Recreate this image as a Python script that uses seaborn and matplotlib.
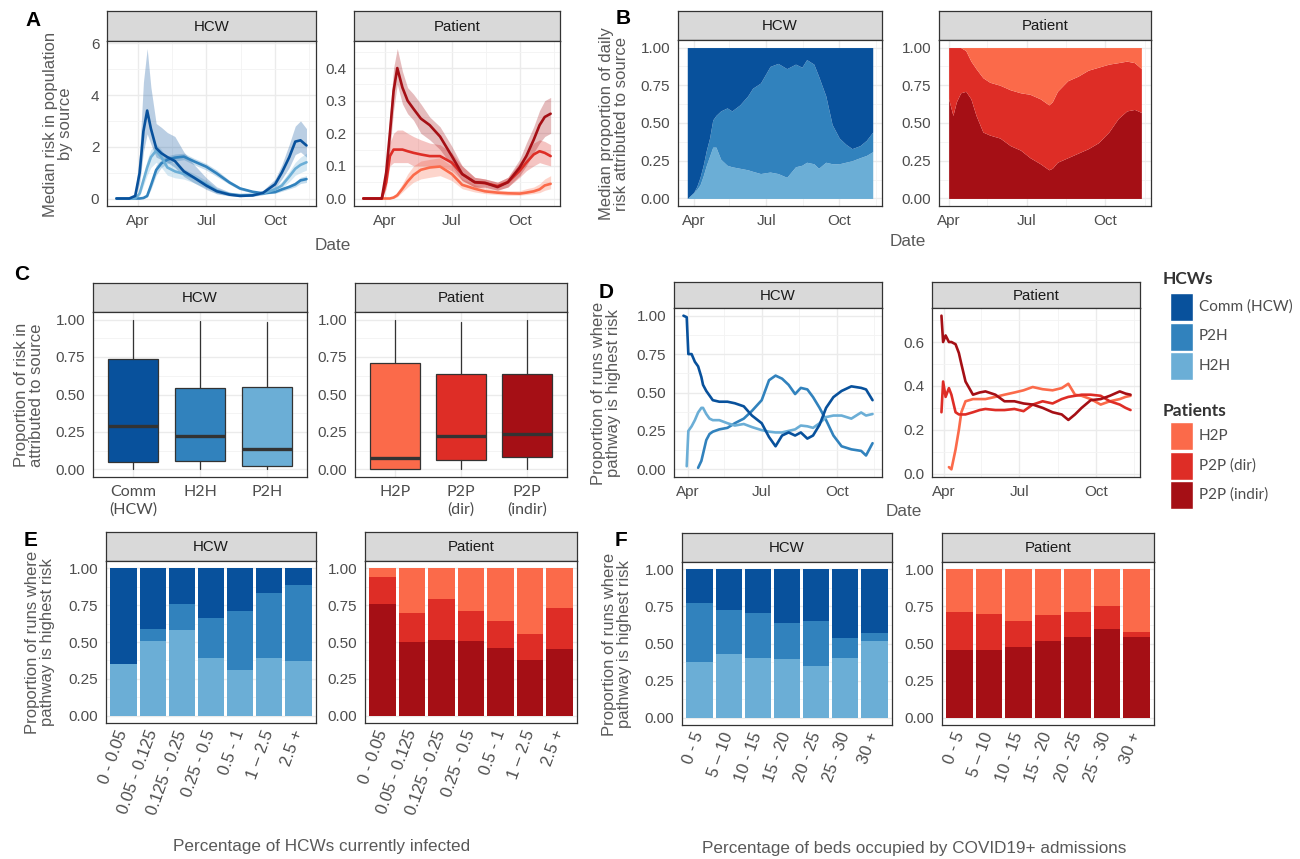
import numpy as np
import pandas as pd
import matplotlib
matplotlib.use("Agg")
import matplotlib.pyplot as plt
import matplotlib.dates as mdates
from matplotlib.patches import Rectangle
import seaborn as sns

nan = np.nan

# colours (ColorBrewer blues / reds)
DARK_B, MID_B, LIGHT_B = "#08519C", "#3182BD", "#6BAED6"
LIGHT_R, MID_R, DARK_R = "#FB6A4A", "#DE2D26", "#A50F15"

# ---------------- A: median risk by source ----------------
a_dates = ["2020-03-03", "2020-03-20", "2020-03-28", "2020-04-03", "2020-04-08", "2020-04-13",
           "2020-04-18", "2020-04-25", "2020-05-02", "2020-05-10", "2020-05-20", "2020-06-01",
           "2020-06-15", "2020-07-01", "2020-07-15", "2020-08-01", "2020-08-15", "2020-09-01",
           "2020-09-15", "2020-10-01", "2020-10-10", "2020-10-20", "2020-10-28", "2020-11-04",
           "2020-11-12"]
a_comm = [0, 0, 0.1, 1.0, 2.6, 3.4, 2.7, 1.95, 1.75, 1.6, 1.45, 1.05, 0.8, 0.5, 0.28, 0.15, 0.1,
          0.12, 0.22, 0.55, 1.0, 1.6, 2.2, 2.25, 2.05]
a_comm_lo = [0, 0, 0.05, 0.6, 1.8, 2.5, 2.1, 1.6, 1.5, 1.4, 1.2, 0.85, 0.6, 0.35, 0.18, 0.1, 0.07,
             0.08, 0.15, 0.4, 0.75, 1.2, 1.7, 1.8, 1.6]
a_comm_hi = [0, 0, 0.2, 1.8, 4.5, 5.8, 4.3, 2.9, 2.75, 2.55, 2.4, 1.8, 1.3, 0.8, 0.45, 0.25, 0.18,
             0.18, 0.32, 0.75, 1.3, 2.1, 2.8, 3.0, 2.7]
a_h2h = [0, 0, 0, 0.2, 0.7, 1.2, 1.6, 1.85, 1.6, 1.2, 1.05, 0.95, 0.8, 0.55, 0.3, 0.17, 0.13, 0.14,
         0.2, 0.35, 0.5, 0.85, 1.15, 1.3, 1.4]
a_h2h_lo = [0, 0, 0, 0.1, 0.5, 0.9, 1.2, 1.4, 1.2, 0.9, 0.8, 0.75, 0.6, 0.4, 0.2, 0.12, 0.1, 0.1,
            0.15, 0.25, 0.4, 0.65, 0.9, 1.0, 1.1]
a_h2h_hi = [0, 0, 0, 0.3, 0.9, 1.5, 1.9, 2.1, 1.9, 1.5, 1.35, 1.15, 0.95, 0.7, 0.4, 0.22, 0.18, 0.18,
            0.25, 0.45, 0.65, 1.05, 1.4, 1.6, 1.75]
a_p2h = [0, 0, 0, 0, 0.02, 0.1, 0.5, 1.1, 1.36, 1.5, 1.58, 1.62, 1.43, 1.23, 0.97, 0.62, 0.39, 0.26,
         0.2, 0.25, 0.35, 0.45, 0.55, 0.7, 0.75]
a_p2h_lo = [0, 0, 0, 0, 0, 0.05, 0.35, 0.9, 1.2, 1.35, 1.45, 1.5, 1.3, 1.1, 0.85, 0.55, 0.33, 0.22,
            0.17, 0.2, 0.28, 0.37, 0.45, 0.58, 0.62]
a_p2h_hi = [0, 0, 0, 0, 0.05, 0.15, 0.65, 1.3, 1.5, 1.65, 1.72, 1.75, 1.55, 1.35, 1.1, 0.7, 0.45, 0.3,
            0.24, 0.3, 0.42, 0.53, 0.65, 0.82, 0.88]

a_indir = [0, 0, 0, 0.08, 0.2, 0.33, 0.40, 0.34, 0.30, 0.275, 0.245, 0.225, 0.19, 0.13, 0.075, 0.05,
           0.048, 0.035, 0.05, 0.095, 0.13, 0.18, 0.225, 0.25, 0.26]
a_indir_lo = [0, 0, 0, 0.05, 0.15, 0.27, 0.35, 0.29, 0.26, 0.24, 0.2, 0.18, 0.15, 0.1, 0.055, 0.035,
              0.035, 0.025, 0.035, 0.07, 0.1, 0.14, 0.17, 0.19, 0.2]
a_indir_hi = [0, 0, 0, 0.1, 0.26, 0.4, 0.46, 0.39, 0.34, 0.32, 0.29, 0.25, 0.22, 0.16, 0.1, 0.065,
              0.06, 0.05, 0.065, 0.12, 0.17, 0.22, 0.27, 0.3, 0.31]
a_dir = [0, 0, 0, 0.05, 0.13, 0.15, 0.15, 0.15, 0.145, 0.14, 0.135, 0.13, 0.13, 0.11, 0.075, 0.05,
         0.047, 0.038, 0.05, 0.085, 0.11, 0.135, 0.145, 0.14, 0.13]
a_dir_lo = [0, 0, 0, 0.03, 0.1, 0.11, 0.11, 0.11, 0.11, 0.1, 0.1, 0.1, 0.1, 0.085, 0.055, 0.035,
            0.033, 0.026, 0.035, 0.065, 0.085, 0.1, 0.11, 0.105, 0.1]
a_dir_hi = [0, 0, 0, 0.07, 0.17, 0.2, 0.21, 0.21, 0.2, 0.19, 0.18, 0.17, 0.165, 0.14, 0.1, 0.065,
            0.06, 0.05, 0.065, 0.11, 0.14, 0.17, 0.18, 0.175, 0.165]
a_h2p = [0, 0, 0, 0, 0, 0.003, 0.01, 0.03, 0.052, 0.072, 0.088, 0.095, 0.098, 0.075, 0.042, 0.03,
         0.022, 0.018, 0.016, 0.015, 0.018, 0.022, 0.028, 0.04, 0.045]
a_h2p_lo = [0, 0, 0, 0, 0, 0, 0.005, 0.02, 0.035, 0.05, 0.06, 0.065, 0.07, 0.055, 0.03, 0.02, 0.015,
            0.012, 0.01, 0.01, 0.012, 0.015, 0.018, 0.025, 0.03]
a_h2p_hi = [0, 0, 0, 0, 0, 0.006, 0.02, 0.045, 0.075, 0.1, 0.115, 0.12, 0.125, 0.1, 0.06, 0.042,
            0.032, 0.026, 0.024, 0.024, 0.03, 0.035, 0.045, 0.06, 0.07]

# ---------------- B: share of daily risk ----------------
b_hcw_dates = ["2020-03-24", "2020-04-01", "2020-04-05", "2020-04-09", "2020-04-13", "2020-04-17",
               "2020-04-21", "2020-04-25", "2020-04-29", "2020-05-05", "2020-05-13", "2020-05-19",
               "2020-05-29", "2020-06-08", "2020-06-14", "2020-06-24", "2020-07-06", "2020-07-16",
               "2020-07-27", "2020-08-07", "2020-08-15", "2020-08-21", "2020-08-30", "2020-09-05",
               "2020-09-14", "2020-09-22", "2020-10-01", "2020-10-09", "2020-10-17", "2020-10-27",
               "2020-11-04", "2020-11-12"]
b_hcw_h2h = [0, 0.04, 0.06, 0.09, 0.15, 0.22, 0.28, 0.34, 0.34, 0.26, 0.22, 0.21, 0.20, 0.19, 0.18,
             0.165, 0.175, 0.165, 0.14, 0.21, 0.22, 0.24, 0.23, 0.20, 0.24, 0.23, 0.23, 0.24, 0.25,
             0.27, 0.285, 0.31]
b_hcw_p2h = [0, 0, 0.02, 0.05, 0.07, 0.10, 0.12, 0.18, 0.21, 0.32, 0.38, 0.37, 0.42, 0.49, 0.55,
             0.60, 0.70, 0.73, 0.72, 0.68, 0.65, 0.68, 0.66, 0.61, 0.44, 0.26, 0.17, 0.12, 0.08,
             0.08, 0.10, 0.13]

b_pat_dates = ["2020-04-01", "2020-04-06", "2020-04-10", "2020-04-15", "2020-04-21", "2020-04-27",
               "2020-05-03", "2020-05-11", "2020-05-19", "2020-05-31", "2020-06-12", "2020-06-24",
               "2020-07-05", "2020-07-17", "2020-07-27", "2020-07-31", "2020-08-06", "2020-08-18",
               "2020-08-30", "2020-09-11", "2020-09-23", "2020-10-05", "2020-10-16", "2020-10-26",
               "2020-11-04", "2020-11-12"]
b_pat_indir = [0.66, 0.55, 0.64, 0.70, 0.71, 0.66, 0.55, 0.44, 0.42, 0.40, 0.35, 0.32, 0.27, 0.23,
               0.19, 0.20, 0.24, 0.27, 0.30, 0.33, 0.37, 0.44, 0.53, 0.58, 0.59, 0.57]
b_pat_dir = [0.34, 0.45, 0.36, 0.30, 0.27, 0.25, 0.31, 0.36, 0.35, 0.35, 0.37, 0.38, 0.42, 0.43,
             0.43, 0.44, 0.47, 0.51, 0.51, 0.52, 0.50, 0.45, 0.37, 0.33, 0.31, 0.29]

# ---------------- C: box summaries ----------------
c_hcw_labels = ["Comm\n(HCW)", "H2H", "P2H"]
c_hcw_lo = [0, 0, 0]
c_hcw_q1 = [0.053, 0.055, 0.022]
c_hcw_med = [0.288, 0.222, 0.135]
c_hcw_q3 = [0.736, 0.543, 0.55]
c_hcw_hi = [1.0, 0.99, 0.985]

c_pat_labels = ["H2P", "P2P\n(dir)", "P2P\n(indir)"]
c_pat_lo = [0, 0, 0]
c_pat_q1 = [0.002, 0.06, 0.082]
c_pat_med = [0.075, 0.226, 0.235]
c_pat_q3 = [0.71, 0.64, 0.634]
c_pat_hi = [1.0, 0.985, 1.0]

# ---------------- D: proportion of runs where pathway is highest ----------------
d_hcw_dates = ["2020-03-27", "2020-03-31", "2020-04-02", "2020-04-06", "2020-04-10", "2020-04-14",
               "2020-04-18", "2020-04-20", "2020-04-24", "2020-04-28", "2020-05-02", "2020-05-10",
               "2020-05-20", "2020-05-29", "2020-06-09", "2020-06-19", "2020-07-01", "2020-07-10",
               "2020-07-18", "2020-07-26", "2020-08-03", "2020-08-11", "2020-08-18", "2020-08-26",
               "2020-09-02", "2020-09-10", "2020-09-18", "2020-09-27", "2020-10-07", "2020-10-19",
               "2020-10-31", "2020-11-06", "2020-11-14"]
d_hcw_comm = [1.0, 0.99, 0.75, 0.75, 0.70, 0.67, 0.60, 0.55, 0.51, 0.48, 0.45, 0.44, 0.44, 0.43,
              0.41, 0.35, 0.30, 0.21, 0.15, 0.22, 0.24, 0.22, 0.24, 0.20, 0.22, 0.29, 0.40, 0.47,
              0.51, 0.54, 0.53, 0.52, 0.45]
d_hcw_p2h = [nan, nan, nan, nan, nan, 0.01, 0.055, 0.10, 0.19, 0.23, 0.245, 0.26, 0.27, 0.30, 0.33,
             0.38, 0.45, 0.58, 0.61, 0.59, 0.55, 0.49, 0.53, 0.52, 0.47, 0.40, 0.32, 0.22, 0.15,
             0.13, 0.12, 0.09, 0.17]
d_hcw_h2h = [nan, 0.02, 0.25, 0.28, 0.32, 0.37, 0.40, 0.40, 0.36, 0.33, 0.32, 0.32, 0.30, 0.285,
             0.295, 0.275, 0.255, 0.245, 0.24, 0.24, 0.25, 0.26, 0.285, 0.28, 0.27, 0.30, 0.34,
             0.35, 0.35, 0.33, 0.37, 0.35, 0.36]

d_pat_dates = ["2020-03-29", "2020-03-31", "2020-04-03", "2020-04-07", "2020-04-10", "2020-04-15",
               "2020-04-19", "2020-04-22", "2020-04-27", "2020-05-06", "2020-05-14", "2020-05-21",
               "2020-06-02", "2020-06-13", "2020-06-25", "2020-07-06", "2020-07-17", "2020-07-29",
               "2020-08-10", "2020-08-21", "2020-08-29", "2020-09-06", "2020-09-14", "2020-09-25",
               "2020-10-07", "2020-10-18", "2020-10-30", "2020-11-06", "2020-11-12"]
d_pat_indir = [0.72, 0.60, 0.63, 0.60, 0.60, 0.59, 0.55, 0.50, 0.42, 0.36, 0.37, 0.375, 0.36, 0.33,
               0.33, 0.32, 0.315, 0.30, 0.28, 0.27, 0.245, 0.27, 0.30, 0.335, 0.34, 0.355, 0.375,
               0.365, 0.36]
d_pat_dir = [0.28, 0.42, 0.35, 0.39, 0.36, 0.28, 0.27, 0.27, 0.27, 0.28, 0.29, 0.295, 0.29, 0.29,
             0.295, 0.285, 0.315, 0.33, 0.32, 0.34, 0.35, 0.355, 0.36, 0.36, 0.355, 0.33, 0.315,
             0.30, 0.29]
d_pat_h2p = [nan, nan, nan, 0.03, 0.02, 0.11, 0.20, 0.28, 0.33, 0.34, 0.34, 0.34, 0.35, 0.36, 0.37,
             0.38, 0.395, 0.385, 0.38, 0.39, 0.41, 0.36, 0.355, 0.34, 0.315, 0.33, 0.34, 0.35, 0.355]

# ---------------- E / F: stacked shares by prevalence ----------------
e_cats = ["0 - 0.05", "0.05 - 0.125", "0.125 - 0.25", "0.25 - 0.5", "0.5 - 1", "1 \u2013 2.5", "2.5 +"]
e_hcw_h2h = [0.35, 0.51, 0.58, 0.39, 0.31, 0.39, 0.37]
e_hcw_p2h = [0.0, 0.08, 0.18, 0.27, 0.40, 0.445, 0.52]
e_pat_indir = [0.76, 0.50, 0.515, 0.505, 0.46, 0.38, 0.455]
e_pat_dir = [0.18, 0.195, 0.275, 0.205, 0.18, 0.175, 0.275]

f_cats = ["0 - 5", "5 \u2013 10", "10 - 15", "15 - 20", "20 - 25", "25 - 30", "30 +"]
f_hcw_h2h = [0.375, 0.43, 0.405, 0.395, 0.35, 0.405, 0.52]
f_hcw_p2h = [0.40, 0.295, 0.30, 0.245, 0.30, 0.13, 0.05]
f_pat_indir = [0.455, 0.455, 0.475, 0.52, 0.545, 0.60, 0.545]
f_pat_dir = [0.255, 0.245, 0.175, 0.175, 0.17, 0.155, 0.035]

W, H = 1300, 859
EDGE = "#333333"
TICK = "#4D4D4D"
TITLE = "#595959"
MAJOR_DATES = ["2020-04-01", "2020-07-01", "2020-10-01"]
MINOR_DATES = ["2020-02-15", "2020-05-16", "2020-08-16", "2020-11-16"]


def rect(x0, y0, x1, y1):
    return [x0 / W, 1 - y1 / H, (x1 - x0) / W, (y1 - y0) / H]


def facet(fig, x0, x1, ys, yt, yb, title):
    strip = fig.add_axes(rect(x0, ys, x1, yt))
    strip.set_facecolor("#D9D9D9")
    strip.set_xticks([])
    strip.set_yticks([])
    for s in strip.spines.values():
        s.set_color(EDGE)
        s.set_linewidth(0.9)
    strip.text(0.5, 0.47, title, transform=strip.transAxes, ha="center", va="center",
               fontsize=10.8, color="#1A1A1A")
    ax = fig.add_axes(rect(x0, yt, x1, yb))
    for s in ax.spines.values():
        s.set_color(EDGE)
        s.set_linewidth(0.9)
    ax.tick_params(which="major", color=EDGE, labelcolor=TICK, labelsize=11,
                   length=3.5, width=0.8, pad=2)
    ax.tick_params(which="minor", length=0)
    ax.grid(which="major", color="#EBEBEB", linewidth=1.0)
    ax.grid(which="minor", color="#F3F3F3", linewidth=0.6)
    ax.set_axisbelow(True)
    return ax


def date_axis(ax, first, last):
    lo = mdates.date2num(pd.Timestamp(first))
    hi = mdates.date2num(pd.Timestamp(last))
    pad = 0.05 * (hi - lo)
    ax.set_xticks(mdates.date2num(pd.to_datetime(MAJOR_DATES)))
    ax.set_xticklabels(["Apr", "Jul", "Oct"])
    ax.set_xticks(mdates.date2num(pd.to_datetime(MINOR_DATES)), minor=True)
    ax.set_xlim(lo - pad, hi + pad)
    ax.set_xlabel("")
    ax.set_ylabel("")


def y_axis(ax, lo, hi, ticks, labels, minor):
    pad = 0.05 * (hi - lo)
    ax.set_ylim(lo - pad, hi + pad)
    ax.set_yticks(ticks)
    ax.set_yticklabels(labels)
    ax.set_yticks(minor, minor=True)


PROP_TICKS = [0, 0.25, 0.5, 0.75, 1.0]
PROP_LABELS = ["0.00", "0.25", "0.50", "0.75", "1.00"]
PROP_MINOR = [0.125, 0.375, 0.625, 0.875]


def risk_lines(ax, dates, series):
    x = pd.to_datetime(dates)
    for mid, lo, hi, col in series:
        ax.fill_between(x, lo, hi, color=col, alpha=0.28, linewidth=0)
    for mid, lo, hi, col in series:
        sns.lineplot(x=x, y=mid, color=col, linewidth=1.9, ax=ax)


def stacked(ax, cats, layers, colors):
    cum = np.cumsum(np.array(layers), axis=0)
    for i in range(len(layers) - 1, -1, -1):
        sns.barplot(x=cats, y=cum[i], color=colors[i], saturation=1, width=0.9,
                    linewidth=0, errorbar=None, ax=ax)
    ax.set_xlim(-0.6, len(cats) - 0.4)
    ax.set_xticks(range(len(cats)))
    ax.set_xticklabels(cats, rotation=70, ha="right", va="center", rotation_mode="anchor",
                       fontsize=12)
    y_axis(ax, 0, 1, PROP_TICKS, PROP_LABELS, PROP_MINOR)
    ax.set_xlabel("")
    ax.set_ylabel("")


def boxes(ax, labels, lo, q1, med, q3, hi, colors):
    stats = [dict(whislo=lo[i], q1=q1[i], med=med[i], q3=q3[i], whishi=hi[i]) for i in range(len(labels))]
    bp = ax.bxp(stats, positions=range(len(labels)), widths=0.75, patch_artist=True,
                showfliers=False, showcaps=False,
                boxprops=dict(edgecolor=EDGE, linewidth=0.9),
                medianprops=dict(color=EDGE, linewidth=2.4),
                whiskerprops=dict(color=EDGE, linewidth=0.9))
    for patch, c in zip(bp["boxes"], colors):
        patch.set_facecolor(c)
    ax.set_xlim(-0.6, len(labels) - 0.4)
    ax.set_xticks(range(len(labels)))
    ax.set_xticklabels(labels, fontfamily="Lato", fontsize=11.5, va="top", linespacing=1.3)
    y_axis(ax, 0, 1, PROP_TICKS, PROP_LABELS, PROP_MINOR)


def main():
    sns.set_style("white")
    plt.rcParams["font.family"] = ["Liberation Sans", "DejaVu Sans"]

    fig = plt.figure(figsize=(13, 8.59), dpi=100)
    ov = fig.add_axes([0, 0, 1, 1])
    ov.set_xlim(0, W)
    ov.set_ylim(H, 0)
    ov.axis("off")

    # ---- A ----
    ax = facet(fig, 107, 316, 11, 41, 206, "HCW")
    risk_lines(ax, a_dates, [(a_p2h, a_p2h_lo, a_p2h_hi, MID_B),
                             (a_h2h, a_h2h_lo, a_h2h_hi, LIGHT_B),
                             (a_comm, a_comm_lo, a_comm_hi, DARK_B)])
    date_axis(ax, a_dates[0], a_dates[-1])
    y_axis(ax, 0, max(a_comm_hi), [0, 2, 4, 6], ["0", "2", "4", "6"], [1, 3, 5])

    ax = facet(fig, 354, 560, 11, 41, 206, "Patient")
    risk_lines(ax, a_dates, [(a_h2p, a_h2p_lo, a_h2p_hi, LIGHT_R),
                             (a_dir, a_dir_lo, a_dir_hi, MID_R),
                             (a_indir, a_indir_lo, a_indir_hi, DARK_R)])
    date_axis(ax, a_dates[0], a_dates[-1])
    y_axis(ax, 0, max(a_indir_hi), [0, 0.1, 0.2, 0.3, 0.4], ["0.0", "0.1", "0.2", "0.3", "0.4"],
           [0.05, 0.15, 0.25, 0.35, 0.45])

    # ---- B ----
    ax = facet(fig, 678, 882, 11, 40, 206, "HCW")
    h2h = np.array(b_hcw_h2h)
    p2h = np.array(b_hcw_p2h)
    ax.stackplot(mdates.date2num(pd.to_datetime(b_hcw_dates)), h2h, p2h, 1 - h2h - p2h,
                 colors=[LIGHT_B, MID_B, DARK_B], linewidth=0)
    date_axis(ax, b_hcw_dates[0], b_hcw_dates[-1])
    y_axis(ax, 0, 1, PROP_TICKS, PROP_LABELS, PROP_MINOR)

    ax = facet(fig, 939, 1151, 11, 40, 206, "Patient")
    ind = np.array(b_pat_indir)
    dr = np.array(b_pat_dir)
    ax.stackplot(mdates.date2num(pd.to_datetime(b_pat_dates)), ind, dr, 1 - ind - dr,
                 colors=[DARK_R, MID_R, LIGHT_R], linewidth=0)
    date_axis(ax, b_pat_dates[0], b_pat_dates[-1])
    y_axis(ax, 0, 1, PROP_TICKS, PROP_LABELS, PROP_MINOR)

    # ---- C ----
    ax = facet(fig, 93, 307, 283, 312, 477, "HCW")
    boxes(ax, c_hcw_labels, c_hcw_lo, c_hcw_q1, c_hcw_med, c_hcw_q3, c_hcw_hi,
          [DARK_B, MID_B, LIGHT_B])
    ax = facet(fig, 355, 567, 283, 312, 477, "Patient")
    boxes(ax, c_pat_labels, c_pat_lo, c_pat_q1, c_pat_med, c_pat_q3, c_pat_hi,
          [LIGHT_R, MID_R, DARK_R])

    # ---- D ----
    ax = facet(fig, 674, 882, 282, 308, 477, "HCW")
    x = pd.to_datetime(d_hcw_dates)
    sns.lineplot(x=x, y=d_hcw_p2h, color=MID_B, linewidth=1.9, ax=ax)
    sns.lineplot(x=x, y=d_hcw_h2h, color=LIGHT_B, linewidth=1.9, ax=ax)
    sns.lineplot(x=x, y=d_hcw_comm, color=DARK_B, linewidth=1.9, ax=ax)
    date_axis(ax, d_hcw_dates[0], d_hcw_dates[-1])
    y_axis(ax, 0, 1, PROP_TICKS, PROP_LABELS, PROP_MINOR)

    ax = facet(fig, 932, 1140, 282, 308, 477, "Patient")
    x = pd.to_datetime(d_pat_dates)
    sns.lineplot(x=x, y=d_pat_h2p, color=LIGHT_R, linewidth=1.9, ax=ax)
    sns.lineplot(x=x, y=d_pat_dir, color=MID_R, linewidth=1.9, ax=ax)
    sns.lineplot(x=x, y=d_pat_indir, color=DARK_R, linewidth=1.9, ax=ax)
    date_axis(ax, d_pat_dates[0], d_pat_dates[-1])
    lo_v = np.nanmin(d_pat_h2p)
    y_axis(ax, lo_v, max(d_pat_indir), [0, 0.2, 0.4, 0.6], ["0.0", "0.2", "0.4", "0.6"],
           [0.1, 0.3, 0.5, 0.7])

    # ---- E ----
    ax = facet(fig, 106, 316, 532, 561, 723, "HCW")
    h2h = np.array(e_hcw_h2h)
    p2h = np.array(e_hcw_p2h)
    stacked(ax, e_cats, [h2h, p2h, 1 - h2h - p2h], [LIGHT_B, MID_B, DARK_B])
    ax = facet(fig, 365, 577, 532, 561, 723, "Patient")
    ind = np.array(e_pat_indir)
    dr = np.array(e_pat_dir)
    stacked(ax, e_cats, [ind, dr, 1 - ind - dr], [DARK_R, MID_R, LIGHT_R])

    # ---- F ----
    ax = facet(fig, 682, 892, 533, 562, 725, "HCW")
    h2h = np.array(f_hcw_h2h)
    p2h = np.array(f_hcw_p2h)
    stacked(ax, f_cats, [h2h, p2h, 1 - h2h - p2h], [LIGHT_B, MID_B, DARK_B])
    ax = facet(fig, 942, 1154, 533, 562, 725, "Patient")
    ind = np.array(f_pat_indir)
    dr = np.array(f_pat_dir)
    stacked(ax, f_cats, [ind, dr, 1 - ind - dr], [DARK_R, MID_R, LIGHT_R])

    # ---- panel letters and axis titles ----
    for lab, x0, y0 in [("A", 33, 20), ("B", 623, 18), ("C", 22, 275),
                        ("D", 606, 292), ("E", 31, 540), ("F", 621, 540)]:
        ov.text(x0, y0, lab, fontsize=15, fontweight="bold", ha="center", va="center", color="black")

    ylabs = [("Median risk in population\nby source", 58, 124),
             ("Median proportion of daily\nrisk attributed to source", 614, 124),
             ("Proportion of risk in\nattributed to source", 29, 395),
             ("Proportion of runs where\npathway is highest risk", 606, 393),
             ("Proportion of runs where\npathway is highest risk", 40, 642),
             ("Proportion of runs where\npathway is highest risk", 617, 644)]
    for txt, x0, y0 in ylabs:
        ov.text(x0, y0, txt, rotation=90, fontsize=12, color=TITLE, ha="center", va="center",
                linespacing=1.0)

    xlabs = [("Date", 333, 246), ("Date", 908, 241), ("Date", 904, 511),
             ("Percentage of HCWs currently infected", 322, 847),
             ("Percentage of beds occupied by COVID19+ admissions", 914, 848)]
    for txt, x0, y0 in xlabs:
        ov.text(x0, y0, txt, fontsize=12.3, color=TITLE, ha="center", va="center")

    # ---- legend ----
    groups = [("HCWs", 279, [("Comm (HCW)", DARK_B), ("P2H", MID_B), ("H2H", LIGHT_B)], 293),
              ("Patients", 411, [("H2P", LIGHT_R), ("P2P (dir)", MID_R), ("P2P (indir)", DARK_R)], 422)]
    for title, ty, items, y0 in groups:
        ov.text(1163, ty, title, fontsize=12.5, fontweight="bold", family="Lato",
                color="#333333", ha="left", va="center")
        for i, (lab, col) in enumerate(items):
            yy = y0 + i * 29.5
            ov.add_patch(Rectangle((1170, yy), 23, 28, facecolor=col, edgecolor="white", linewidth=1))
            ov.text(1199, yy + 14, lab, fontsize=11, family="Lato", color=TICK, ha="left", va="center")

    fig.savefig("out.png", dpi=100)
    plt.close(fig)


if __name__ == "__main__":
    main()
